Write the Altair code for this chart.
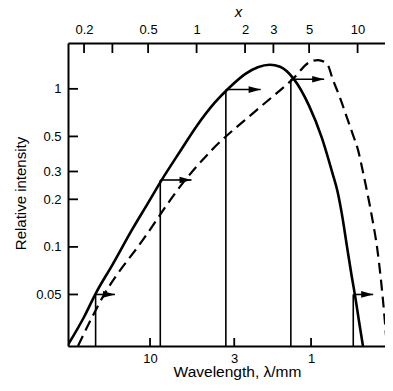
import altair as alt
import pandas as pd

# ---- data ----
solid_x = [0.159, 0.2, 0.237, 0.3, 0.4, 0.5, 0.6, 0.8, 1.0, 1.3, 1.6, 2.0, 2.4, 2.85, 3.3, 4.0,
           5.0, 6.0, 7.0, 7.5, 8.0, 8.6, 9.2, 9.65, 10.2, 10.8]
solid_y = [0.024, 0.036, 0.051, 0.077, 0.13, 0.19, 0.26, 0.41, 0.58, 0.82, 1.02, 1.24, 1.37, 1.42, 1.38, 1.16,
           0.78, 0.49, 0.29, 0.225, 0.16, 0.10, 0.065, 0.049, 0.034, 0.0236]

dash_x = [0.1834, 0.266, 0.465, 0.823, 1.246, 2.37, 3.97, 5.06, 5.68, 6.46, 7.03, 7.78, 8.6, 9.36,
          10.06, 10.8, 11.6, 12.47, 13.2, 13.97, 14.6, 15.2]
dash_y = [0.0236, 0.0497, 0.111, 0.254, 0.411, 0.736, 1.157, 1.48, 1.52, 1.44, 1.14, 0.877, 0.655, 0.512,
          0.411, 0.298, 0.21, 0.142, 0.1, 0.0618, 0.0388, 0.0236]

arrow_x0 = [0.236, 0.595, 1.52, 3.85, 9.4]
arrow_x1 = [0.311, 0.93, 2.5, 6.2, 12.5]
arrow_y = [0.05, 0.265, 0.99, 1.15, 0.05]

top_ticks = [0.2, 0.3, 0.5, 1, 2, 3, 5, 10]
top_labels = [0.2, 0.5, 1, 2, 3, 5, 10]
left_ticks = [0.05, 0.1, 0.2, 0.3, 0.5, 1]
lam_ticks = [10, 3, 1]          # wavelength / mm
C = 5.14                        # x = C / lambda

X_DOMAIN = [0.159, 14.8]
Y_DOMAIN = [0.0236, 1.95]
W, H = 317, 303

xs = alt.Scale(type="log", domain=X_DOMAIN, nice=False)
ys = alt.Scale(type="log", domain=Y_DOMAIN, nice=False)

solid_df = pd.DataFrame({"x": solid_x, "y": solid_y})
dash_df = pd.DataFrame({"x": dash_x, "y": dash_y})
arr_df = pd.DataFrame({"x": arrow_x0, "x1": arrow_x1, "y": arrow_y, "ybot": [Y_DOMAIN[0]] * len(arrow_y)})
top_df = pd.DataFrame({"x": top_ticks})
left_df = pd.DataFrame({"y": left_ticks})
bot_df = pd.DataFrame({"x": [C / l for l in lam_ticks]})

common_axis = dict(domainColor="black", domainWidth=2, labelColor="black", labelFont="Liberation Sans",
                   labelFontSize=13, titleFont="Liberation Sans", titleFontWeight="normal",
                   titleColor="black", grid=False, ticks=False)

bottom_axis = alt.Axis(orient="bottom", values=[C / l for l in lam_ticks],
                       labelExpr=f"round({C}/datum.value)", labelPadding=6,
                       title="Wavelength, λ/mm", titleFontSize=15.5, titleX=169, titleY=30,
                       titleBaseline="alphabetic", **common_axis)
top_axis = alt.Axis(orient="top", values=top_labels, format="~g", labelPadding=7,
                    title="x", titleFontSize=15, titleFontStyle="italic", titleX=170, titleY=-27,
                    titleBaseline="alphabetic", **common_axis)
left_axis = alt.Axis(orient="left", values=left_ticks, format="~g", labelPadding=7,
                     title="Relative intensity", titleFontSize=15, titleAngle=270, titleX=-43, titleY=150,
                     titleBaseline="alphabetic", titleAlign="center", **common_axis)

solid = alt.Chart(solid_df).mark_line(color="black", strokeWidth=2.6, interpolate="monotone", clip=True).encode(
    x=alt.X("x:Q", scale=xs, axis=bottom_axis),
    y=alt.Y("y:Q", scale=ys, axis=left_axis),
)
dashed = alt.Chart(dash_df).mark_line(color="black", strokeWidth=2.2, strokeDash=[11, 6],
                                       interpolate="monotone", clip=True).encode(
    x=alt.X("x:Q", scale=xs, axis=None),
    y=alt.Y("y:Q", scale=ys, axis=None),
)
verticals = alt.Chart(arr_df).mark_rule(color="black", strokeWidth=1.6).encode(
    x=alt.X("x:Q", scale=xs, axis=None),
    y=alt.Y("y:Q", scale=ys, axis=None),
    y2="ybot:Q",
)
shafts = alt.Chart(arr_df).mark_rule(color="black", strokeWidth=1.6).encode(
    x=alt.X("x:Q", scale=xs, axis=None),
    x2="x1:Q",
    y=alt.Y("y:Q", scale=ys, axis=None),
)
heads = alt.Chart(arr_df).mark_point(shape="M0,0L-1,-0.28L-1,0.28Z", filled=True, size=576,
                                     color="black", opacity=1).encode(
    x=alt.X("x1:Q", scale=xs, axis=None),
    y=alt.Y("y:Q", scale=ys, axis=None),
)
top_tick_rules = alt.Chart(top_df).mark_rule(color="black", strokeWidth=1.8).encode(
    x=alt.X("x:Q", scale=xs, axis=top_axis),
    y=alt.value(0),
    y2=alt.value(10),
)
left_tick_rules = alt.Chart(left_df).mark_rule(color="black", strokeWidth=1.8).encode(
    y=alt.Y("y:Q", scale=ys, axis=None),
    x=alt.value(0),
    x2=alt.value(10),
)
bot_tick_rules = alt.Chart(bot_df).mark_rule(color="black", strokeWidth=1.8).encode(
    x=alt.X("x:Q", scale=xs, axis=None),
    y=alt.value(H),
    y2=alt.value(H - 8),
)

chart = alt.layer(
    solid, dashed, verticals, shafts, heads, top_tick_rules, left_tick_rules, bot_tick_rules
).resolve_axis(x="independent", y="independent").properties(
    width=W, height=H,
    autosize=alt.AutoSizeParams(type="none"),
    padding={"left": 60, "top": 35, "right": 0, "bottom": 42},
    background="white",
).configure_view(stroke=None)

chart.save("out.html", embed_options={"renderer": "svg", "actions": False})
